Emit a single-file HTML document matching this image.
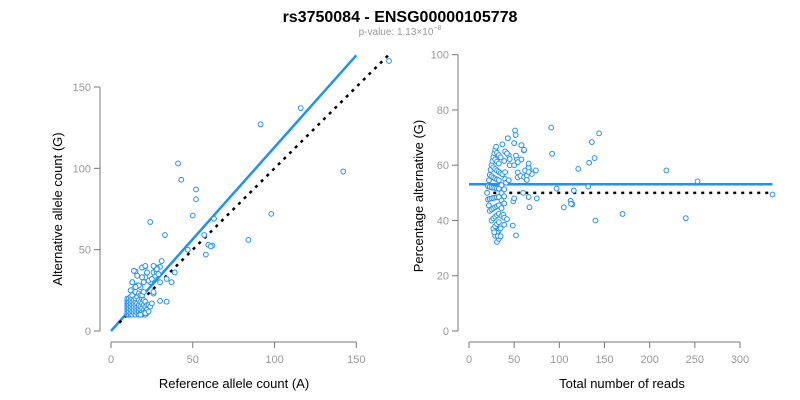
<!DOCTYPE html>
<html><head><meta charset="utf-8">
<style>
body{margin:0;background:#fff;}
svg{display:block;font-family:"Liberation Sans",Arial,sans-serif;}
</style></head>
<body>
<svg id="chart" width="800" height="400" viewBox="0 0 800 400">
<text x="400" y="22" text-anchor="middle" font-size="16" font-weight="bold" fill="#000">rs3750084 - ENSG00000105778</text>
<text x="400" y="35" text-anchor="middle" font-size="10" fill="#999">p-value: 1.13×10<tspan dy="-5" font-size="7">−8</tspan></text>
<g id="left"></g>
<g id="right"></g>
<text x="0" y="0" transform="translate(62,209) rotate(-90)" text-anchor="middle" font-size="13" fill="#000">Alternative allele count (G)</text>
<text x="234" y="388" text-anchor="middle" font-size="13" fill="#000">Reference allele count (A)</text>
<text x="0" y="0" transform="translate(423,196) rotate(-90)" text-anchor="middle" font-size="13" fill="#000">Percentage alternative (G)</text>
<text x="622" y="388" text-anchor="middle" font-size="13" fill="#000">Total number of reads</text>
</svg>
<script>
const refCounts=[170,116,91.5,142,98,84,41,43,52,52,50,63,24,57,33,59.5,62,61,47,58,31,39,37,34,34,30,30,27,28,21,19,15,22,16,20,13,
10,10,10,10,10,10,10,10,10,10,10,11,11,11,11,11,11,12,12,12,12,12,12,12,13,13,13,13,13,13,13,14,14,14,14,14,14,15,15,15,15,15,15,15,16,16,16,16,16,16,17,17,17,17,17,17,18,18,18,18,18,18,19,19,19,19,19,19,20,20,20,20,20,21,21,21,21,22,22,22,23,24,25,26,26,24,23,25,27,26,28,29,30,22,21,13,12,14,16,19,21,17,15,19,20,27,28,26,20,21,18,23];
const altCounts=[166,137,127,98,72,56,103,93,87,81,71,69,67,59,59,53,52.5,52,50,47,43,36,30,32,18,18.5,39.5,39,39,39.7,39,36.6,36,34,33,30,
10,11,12,13,14,15,16,17,18,19,20,10,12,14,16,18,20,10,11,13,15,17,19,21,10,12,14,16,18,20,22,11,13,15,17,19,26,10,12,14,16,18,20,24,11,13,15,17,21,28,10,12,14,16,19,23,11,13,15,18,22,27,10,12,14,17,20,22,11,13,16,19,24,10,12,15,18,13,16,11,16,15,17,23,24,30,31,32,34,36,36,35,30,36,33,30,25,37,34,39,40,28,27,33,30,39,38,40,11,11,10,12];
const leftXTicks=[0,50,100,150];
const leftYTicks=[0,50,100,150];
const rightXTicks=[0,50,100,150,200,250,300];
const rightYTicks=[0,20,40,60,80,100];
const fitRatio=[1.13];
const fitPct=[53.1];

const NS="http://www.w3.org/2000/svg";
function mk(tag,attrs,parent){const e=document.createElementNS(NS,tag);for(const k in attrs)e.setAttribute(k,attrs[k]);parent.appendChild(e);return e;}
const L=document.getElementById('left'),R=document.getElementById('right');
const lx=v=>111+v*(245.3/150), ly=v=>331-v*(244/150);
const rx=v=>469+v*(271/300), ry=v=>331-v*2.763;
const axisCol="#777", tickCol="#999";

function axes(g,xs,ys,xf,yf,yAxisX,xAxisY,pre){
  let a=mk('line',{x1:yAxisX,x2:yAxisX,y1:yf(ys[ys.length-1]),y2:yf(ys[0]),stroke:axisCol,'stroke-width':1},g);
  
  ys.forEach(t=>{
    let l=mk('line',{x1:yAxisX-6,x2:yAxisX,y1:yf(t),y2:yf(t),stroke:axisCol},g);
    
    let tx=mk('text',{x:yAxisX-9,y:yf(t)+4,'text-anchor':'end','font-size':11,fill:tickCol},g);tx.textContent=t;
    
  });
  let b=mk('line',{x1:xf(xs[0]),x2:xf(xs[xs.length-1]),y1:xAxisY,y2:xAxisY,stroke:axisCol},g);
  
  xs.forEach(t=>{
    let l=mk('line',{x1:xf(t),x2:xf(t),y1:xAxisY,y2:xAxisY+6,stroke:axisCol},g);
    
    let tx=mk('text',{x:xf(t),y:xAxisY+21,'text-anchor':'middle','font-size':11,fill:tickCol},g);tx.textContent=t;
    
  });
}
axes(L,leftXTicks,leftYTicks,lx,ly,100,342,'left');
axes(R,rightXTicks,rightYTicks,rx,ry,458,342,'right');

// left lines
const maxRef=Math.max(...refCounts);
let fl=mk('line',{x1:lx(0),y1:ly(0),x2:lx(150),y2:ly(150*fitRatio[0]),stroke:'#1E90FF','stroke-width':2.5},L);

let dl=mk('line',{x1:lx(5),y1:ly(5),x2:lx(maxRef),y2:ly(maxRef),stroke:'#000','stroke-width':2.5,'stroke-dasharray':'3 5'},L);


// right lines
const totals=refCounts.map((r,i)=>r+altCounts[i]);
const maxTot=Math.max(...totals),minTot=Math.min(...totals);
let fr=mk('line',{x1:rx(0),y1:ry(fitPct[0]),x2:rx(maxTot),y2:ry(fitPct[0]),stroke:'#1E90FF','stroke-width':2.5},R);

let dr=mk('line',{x1:rx(minTot-2),y1:ry(50),x2:rx(maxTot),y2:ry(50),stroke:'#000','stroke-width':2.5,'stroke-dasharray':'3 5'},R);


refCounts.forEach((r,i)=>{
  const a=altCounts[i];
  let c=mk('circle',{cx:lx(r),cy:ly(a),r:2.4,fill:'#fff',stroke:'#1E90FF','stroke-width':1},L);
  
  const t=r+a;
  let d=mk('circle',{cx:rx(t),cy:ry(a/t*100),r:2.4,fill:'#fff',stroke:'#1E90FF','stroke-width':1},R);
  
});
</script>
</body></html>
